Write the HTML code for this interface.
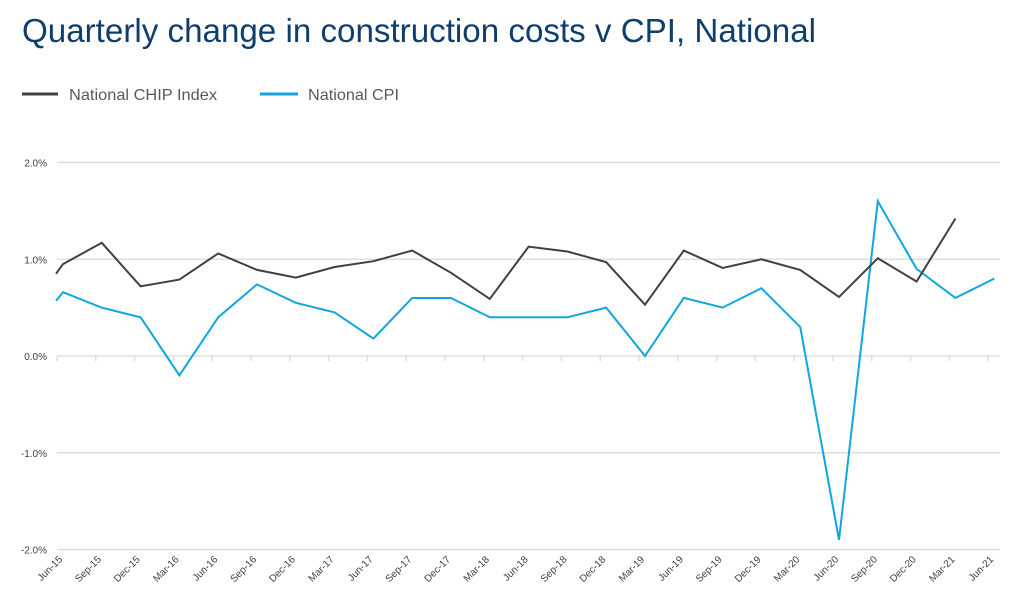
<!DOCTYPE html>
<html><head><meta charset="utf-8"><style>
body{margin:0;background:#fff;}
svg{display:block;font-family:"Liberation Sans",sans-serif;}
</style></head><body>
<svg id="chart" width="1016" height="612">
<text x="22" y="42" font-size="33" fill="#0f3e6c" textLength="794" lengthAdjust="spacingAndGlyphs">Quarterly change in construction costs v CPI, National</text>
<g>
<g><line x1="22" y1="94" x2="58" y2="94" stroke="#404040" stroke-width="3"/><text x="69" y="100" font-size="16" fill="#595959" textLength="148" lengthAdjust="spacingAndGlyphs">National CHIP Index</text></g>
<g><line x1="260" y1="94" x2="298" y2="94" stroke="#12a5e0" stroke-width="3"/><text x="308" y="100" font-size="16" fill="#595959" textLength="91" lengthAdjust="spacingAndGlyphs">National CPI</text></g>
</g>
<g id="grid"></g><g id="xaxis"></g><g id="series"></g>
</svg>
<script>
const categories=["Jun-15","Sep-15","Dec-15","Mar-16","Jun-16","Sep-16","Dec-16","Mar-17","Jun-17","Sep-17","Dec-17","Mar-18","Jun-18","Sep-18","Dec-18","Mar-19","Jun-19","Sep-19","Dec-19","Mar-20","Jun-20","Sep-20","Dec-20","Mar-21","Jun-21"];
const chipValues=[0.95,1.17,0.72,0.79,1.06,0.89,0.81,0.92,0.98,1.09,0.86,0.59,1.13,1.08,0.97,0.53,1.09,0.91,1.0,0.89,0.61,1.01,0.77,1.42,null];
const cpiValues=[0.66,0.5,0.4,-0.2,0.4,0.74,0.55,0.45,0.18,0.6,0.6,0.4,0.4,0.4,0.5,0.0,0.6,0.5,0.7,0.3,-1.9,1.6,0.9,0.6,0.8];
const chipStart=[0.85];
const cpiStart=[0.57];
const yTicks=[2,1,0,-1,-2];
const yTickLabels=["2.0%","1.0%","0.0%","-1.0%","-2.0%"];
const NS="http://www.w3.org/2000/svg";
const y=v=>356-v*96.75;
const xTick=i=>57+i*38.8;
const x=i=>63+i*38.8;
function mk(t,a,p){const e=document.createElementNS(NS,t);for(const k in a)e.setAttribute(k,a[k]);p.appendChild(e);return e;}
const grid=document.getElementById('grid');
yTicks.forEach((v,i)=>{
 const l=mk('line',{x1:57,x2:1000,y1:y(v),y2:y(v),stroke:'#d9d9d9','stroke-width':1.3},grid);
 
 
 const t=mk('text',{x:47,y:y(v)+4,'text-anchor':'end','font-size':10,fill:'#404040'},grid);
 t.textContent=yTickLabels[i];
 
 
});
const xa=document.getElementById('xaxis');
categories.forEach((c,i)=>{
 const tk=mk('line',{x1:xTick(i),x2:xTick(i),y1:356,y2:361,stroke:'#d9d9d9','stroke-width':1.3},xa);
 
 
 const t=mk('text',{x:0,y:0,'text-anchor':'end','font-size':10,fill:'#404040',transform:`translate(${xTick(i)+6},${560}) rotate(-45)`},xa);
 t.textContent=c;
 
 
});
const s=document.getElementById('series');
function draw(vals,start,color,name){
 let d=`M56,${y(start[0])}`;
 vals.forEach((v,i)=>{if(v!==null)d+=` L${x(i)},${y(v)}`;});
 const p=mk('path',{d:d,fill:'none',stroke:color,'stroke-width':2,'stroke-linejoin':'miter'},s);
 
 
}
draw(cpiValues,cpiStart,'#12a5e0','cpi-line');
draw(chipValues,chipStart,'#404040','chip-index-line');
</script>
</body></html>
